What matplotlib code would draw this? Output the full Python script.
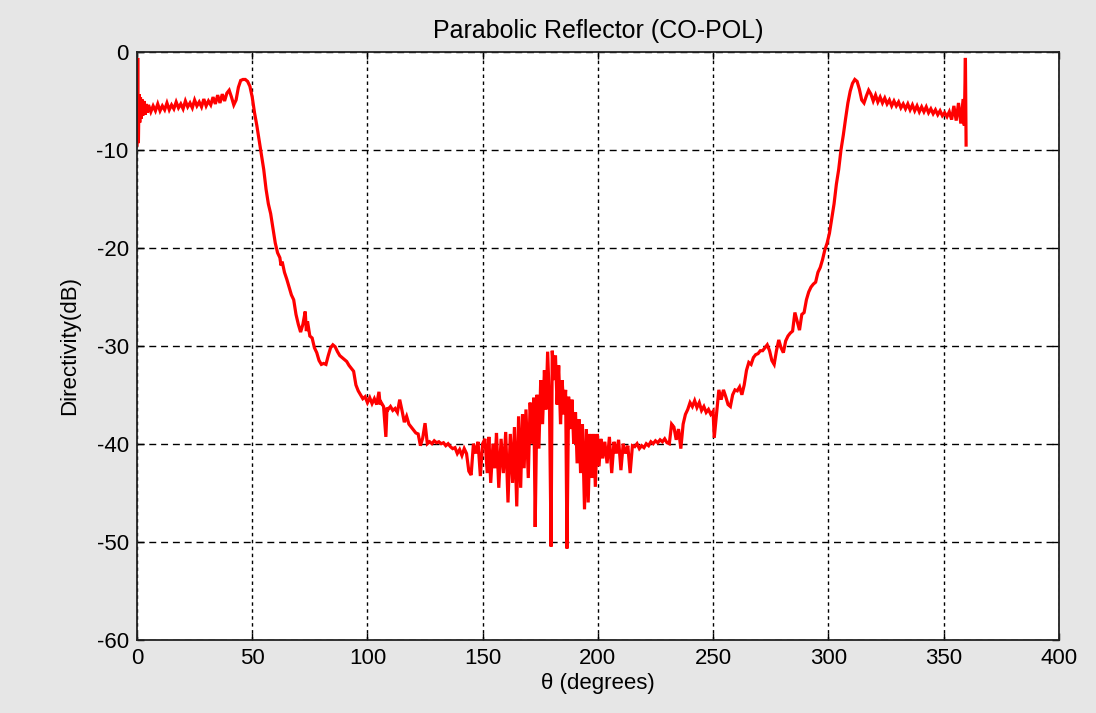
import matplotlib
matplotlib.use('Agg')
import matplotlib.pyplot as plt
import numpy as np

plt.rcParams['font.family'] = ['Liberation Sans', 'DejaVu Sans']
plt.rcParams['axes.unicode_minus'] = False

# main lobe side (0 - 50 deg)
theta_a = [0, 0.3, 0.6, 0.9, 1.2, 1.5, 1.8, 2.1, 2.5, 3, 3.5, 4, 4.5, 5, 6, 7, 8, 9, 10,
           11, 12, 13, 14, 15, 16, 17, 18, 19, 20, 21, 22, 23, 24, 25, 26, 27, 28, 29, 30,
           31, 32, 33, 34, 35, 36, 37, 38, 39, 40, 41, 42, 43, 44, 45, 46, 47, 48, 49, 50]
db_a = [-9.5, -0.6, -9.3, -4.3, -7.2, -4.6, -6.8, -4.8, -6.5, -5.0, -6.4, -5.3, -6.2, -5.4,
        -6.1, -5.5, -6.0, -5.3, -6.0, -5.5, -5.9, -5.2, -5.9, -5.4, -5.8, -5.1, -5.7, -5.3,
        -5.8, -5.0, -5.6, -5.2, -5.7, -4.9, -5.5, -5.1, -5.6, -4.8, -5.5, -5.0, -5.4, -4.6,
        -5.3, -4.4, -5.2, -4.3, -5.0, -4.2, -3.9, -4.6, -5.4, -4.9, -3.6, -2.9, -2.8, -2.8,
        -3.0, -3.5, -4.6]

# falling edge (51 - 150 deg)
theta_b = [51, 52, 53, 54, 55, 56, 57, 58, 59, 60, 61, 62, 62.5, 63, 64, 65, 66, 67, 68, 69,
           70, 71, 72, 73, 73.5, 74, 75, 76, 77, 78, 79, 80, 81, 82, 83, 84, 85, 86, 87, 88,
           89, 90, 91, 92, 93, 94, 95, 96, 97, 98, 99, 100, 101, 102, 103, 104, 105, 105.5,
           106, 107, 108, 108.5, 109, 110, 111, 112, 113, 114, 115, 116, 117, 118, 119, 120,
           121, 122, 123, 124, 125, 126, 127, 128, 129, 130, 131, 132, 133, 134, 135, 136,
           137, 138, 139, 140, 141, 142, 143, 144, 145, 146, 147, 148, 149, 150]
db_b = [-6.2, -7.5, -9.0, -10.5, -12.0, -14.0, -15.5, -16.5, -18.0, -19.5, -20.5, -21.0,
        -21.8, -21.4, -22.5, -23.2, -24.0, -24.8, -25.3, -26.8, -27.8, -28.6, -27.8, -26.5,
        -28.5, -27.5, -29.0, -29.2, -30.2, -30.7, -31.5, -31.9, -31.8, -31.9, -31.0, -30.2,
        -29.9, -30.1, -30.6, -31.0, -31.2, -31.4, -31.6, -32.0, -32.3, -32.6, -34.0, -34.6,
        -35.0, -35.4, -35.2, -35.8, -35.3, -35.9, -35.4, -36.0, -34.7, -36.0, -35.8, -36.2,
        -39.3, -36.3, -36.5, -36.2, -36.6, -36.4, -36.8, -35.5, -36.6, -37.8, -37.2, -38.0,
        -38.3, -38.6, -38.9, -39.0, -40.2, -39.4, -37.9, -40.0, -39.8, -40.0, -39.7, -39.9,
        -39.8, -40.0, -39.9, -40.2, -40.0, -40.3, -40.5, -40.4, -41.0, -40.6, -41.2, -40.5,
        -41.0, -42.8, -43.2, -40.0, -41.0, -39.8, -43.3, -40.0]

# back lobe region (151 - 215 deg)
theta_c = [151, 152, 152.7, 153.5, 154.5, 155.3, 156, 157, 158, 159, 160, 161, 162, 163,
           163.8, 164.8, 165.6, 166.5, 167.3, 168, 168.8, 169.8, 170.6, 171.5, 172.2, 172.8,
           173.6, 174.4, 175.2, 176, 176.8, 177.5, 178.2, 179, 179.7, 180.2, 181, 181.6,
           182.3, 183, 183.8, 184.5, 185.3, 186, 186.6, 187.3, 188, 188.8, 189.5, 190.3, 191,
           191.8, 192.5, 193.3, 194.2, 195, 195.8, 196.6, 197.4, 198.2, 198.9, 199.7, 200.5,
           201.3, 202.1, 203, 204, 205, 206, 207, 208, 209, 210, 211, 212, 213, 214, 215]
db_c = [-39.5, -43.0, -39.3, -44.0, -40.0, -42.5, -38.9, -44.5, -39.5, -43.0, -38.8, -46.0,
        -39.0, -44.0, -38.3, -46.4, -37.2, -44.5, -37.0, -42.5, -36.5, -43.5, -35.8, -40.0,
        -35.3, -48.5, -35.0, -40.5, -33.5, -38.0, -32.5, -36.5, -30.6, -36.0, -50.5, -30.5,
        -33.5, -31.0, -36.0, -32.0, -38.0, -33.5, -37.0, -34.5, -50.7, -35.2, -38.5, -35.5,
        -40.0, -36.8, -42.0, -37.5, -43.0, -38.0, -46.7, -38.5, -46.0, -39.0, -43.5, -39.0,
        -44.4, -39.0, -42.3, -39.5, -41.5, -39.8, -42.0, -39.3, -43.0, -39.8, -41.0, -39.6,
        -42.7, -40.0, -41.0, -40.2, -43.0, -40.2]

# rising edge (216 - 300 deg)
theta_d = [216, 217, 218, 219, 220, 221, 222, 223, 224, 225, 226, 227, 228, 229, 230, 231,
           232, 233, 234, 235, 236, 237, 238, 239, 240, 241, 242, 243, 244, 245, 246, 247,
           248, 249, 250, 250.5, 251.5, 252.5, 253.5, 254.5, 255.5, 256.5, 257.5, 258.5,
           259.5, 260.5, 261.5, 262.5, 263.5, 264.5, 265.5, 266.5, 267.5, 268.5, 269.5,
           270.5, 271.5, 272.5, 273.5, 274.5, 275.5, 276.5, 277.5, 278.5, 279.5, 280.5,
           281.5, 282.5, 283.5, 284.5, 285.5, 286.5, 287.5, 288.5, 289.5, 290.5, 291.5,
           292.5, 293.5, 294.5, 295.5, 296.5, 297.5, 298.5, 299.5, 300.5]
db_d = [-40.3, -40.0, -40.5, -40.2, -40.4, -40.0, -40.2, -39.8, -40.0, -39.7, -39.9, -39.6,
        -39.8, -39.5, -39.9, -40.0, -38.0, -38.3, -39.6, -38.5, -40.5, -38.0, -37.0, -36.5,
        -35.8, -36.2, -35.6, -36.3, -35.8, -36.6, -36.2, -36.8, -36.5, -37.0, -36.7, -39.4,
        -37.0, -34.5, -35.5, -34.5, -35.2, -36.0, -36.2, -35.0, -34.5, -34.6, -34.2, -35.0,
        -34.0, -32.5, -31.7, -31.9, -31.2, -30.9, -30.8, -30.5, -30.5, -30.2, -29.9, -30.5,
        -31.5, -31.9, -30.5, -29.4, -30.2, -30.7, -29.5, -29.0, -28.7, -28.5, -26.6, -27.5,
        -28.4, -26.8, -26.6, -25.3, -24.5, -24.0, -23.7, -23.5, -22.5, -22.0, -21.2, -20.2,
        -19.5, -18.5]

# main lobe side (301 - 360 deg)
theta_e = [301.5, 302.5, 303.5, 304.5, 305.5, 306.5, 307.5, 308.5, 309.5, 310.5, 311.5,
           312.5, 313.5, 314.5, 315.5, 316.5, 317.5, 318.5, 319.5, 320.5, 321.5, 322.5,
           323.5, 324.5, 325.5, 326.5, 327.5, 328.5, 329.5, 330.5, 331.5, 332.5, 333.5,
           334.5, 335.5, 336.5, 337.5, 338.5, 339.5, 340.5, 341.5, 342.5, 343.5, 344.5,
           345.5, 346.5, 347.5, 348.5, 349.5, 350.5, 351.5, 352.5, 353.5, 354.5, 355.5,
           356.5, 357.5, 358.5, 359, 359.5, 359.8]
db_e = [-17.0, -15.5, -13.5, -12.0, -10.0, -8.5, -6.8, -5.2, -4.0, -3.2, -2.8, -3.0, -3.8,
        -4.9, -5.2, -4.5, -3.9, -4.3, -5.0, -4.4, -5.1, -4.6, -5.2, -4.7, -5.3, -4.9, -5.5,
        -5.0, -5.5, -5.1, -5.7, -5.3, -5.8, -5.3, -5.9, -5.4, -6.0, -5.5, -6.1, -5.6, -6.1,
        -5.6, -6.2, -5.8, -6.3, -5.9, -6.4, -6.0, -6.5, -6.2, -6.6, -6.1, -6.9, -5.5, -7.0,
        -5.2, -7.3, -4.8, -7.5, -0.6, -9.5]

theta = theta_a + theta_b + theta_c + theta_d + theta_e
directivity = db_a + db_b + db_c + db_d + db_e

fig = plt.figure(figsize=(10.96, 7.13), dpi=100, facecolor='#e6e6e6')
ax = fig.add_axes([0.125, 0.103, 0.841, 0.824])
ax.plot(theta, directivity, color='#ff0000', lw=2.3, solid_joinstyle='miter')

ax.set_xlim(0, 400)
ax.set_ylim(-60, 0)
ax.set_xticks(np.arange(0, 401, 50))
ax.set_yticks(np.arange(-60, 1, 10))

# matlab style dotted grid
ax.xaxis.grid(True, color='k', lw=1.0, ls=(0, (2.5, 2.5)))
ax.yaxis.grid(True, color='k', lw=1.0, ls=(0, (5, 3.5)))
ax.tick_params(direction='in', length=5, width=1, labelsize=16, top=True, right=True)
ax.tick_params(axis='x', pad=6)
ax.tick_params(axis='y', pad=6)
for s in ax.spines.values():
    s.set_linewidth(1.3)
    s.set_color('#222222')

ax.set_title('Parabolic Reflector (CO-POL)', fontsize=18, pad=10)
ax.set_xlabel('θ (degrees)', fontsize=16, labelpad=3)
ax.set_ylabel('Directivity(dB)', fontsize=16, labelpad=12)

fig.savefig('out.png', dpi=100, facecolor=fig.get_facecolor())
